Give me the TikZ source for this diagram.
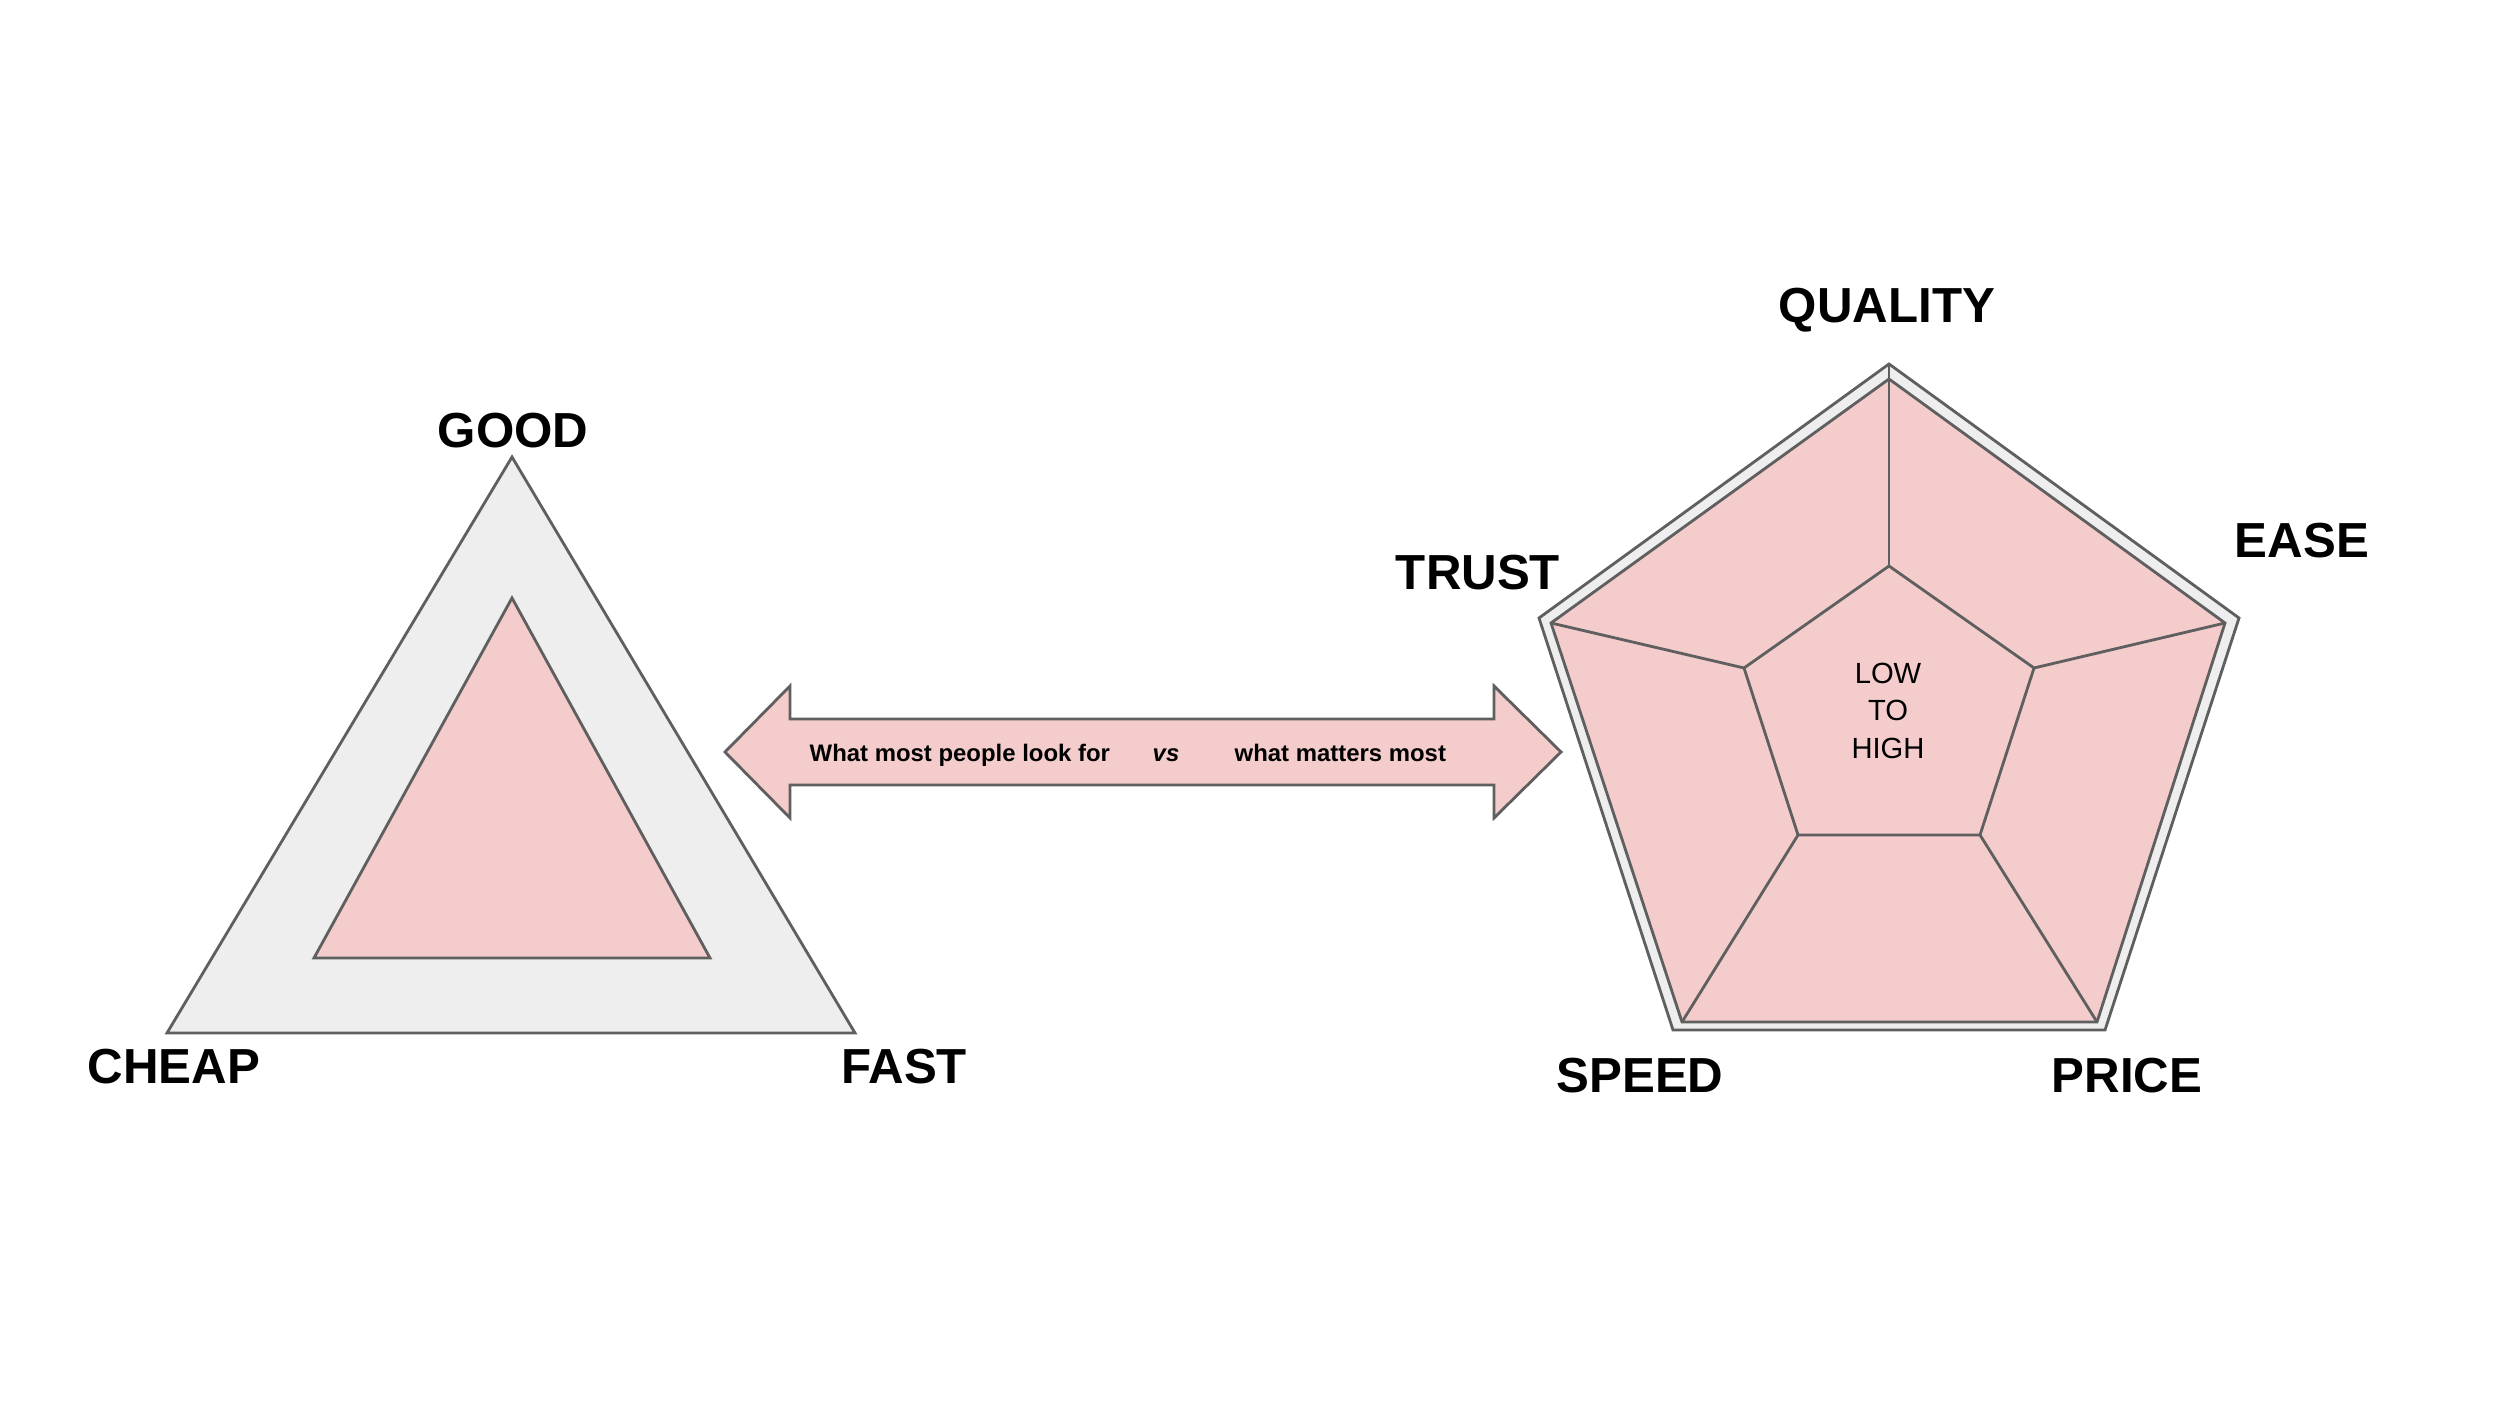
\documentclass[tikz,border=0pt]{standalone}
\usepackage{fontspec}
\setmainfont{Liberation Sans}
\definecolor{pinkfill}{HTML}{F4CCCC}
\definecolor{greyfill}{HTML}{EEEEEE}
\definecolor{linegrey}{HTML}{5F5F5F}
\begin{document}
\begin{tikzpicture}[x=0.01cm,y=-0.01cm,
  edge/.style={draw=linegrey,line width=0.8pt,line join=miter},
  biglabel/.style={font=\fontsize{14}{16}\selectfont\bfseries,inner sep=0pt,anchor=base},
  arrowtext/.style={font=\fontsize{6.8}{8}\selectfont\bfseries,inner sep=0pt},
  centertext/.style={font=\fontsize{8.3}{10.67}\selectfont,inner sep=0pt,align=center}]
\useasboundingbox[fill=white] (0,0) rectangle (2500,1407);

% ---------- triangle ----------
\coordinate (tA) at (512,457);
\coordinate (tB) at (167,1033);
\coordinate (tC) at (855,1033);
\coordinate (iA) at (512,598);
\coordinate (iB) at (314,958);
\coordinate (iC) at (710,958);
\draw[edge,fill=greyfill] (tA) -- (tB) -- (tC) -- cycle;
\draw[edge,fill=pinkfill] (iA) -- (iB) -- (iC) -- cycle;
\node[biglabel] (good) at (513,448) {GOOD};
\node[biglabel] (cheap) at (174,1083) {CHEAP};
\node[biglabel] (fast) at (904,1083) {FAST};

% ---------- double arrow ----------
\coordinate (aL) at (725,752);
\coordinate (aLt) at (790,686);
\coordinate (aLb) at (790,818);
\coordinate (aR) at (1561,752);
\coordinate (aRt) at (1494,686);
\coordinate (aRb) at (1494,818);
\draw[edge,fill=pinkfill] (aL) -- (aLt) -- (790,719) -- (1494,719) -- (aRt) -- (aR)
  -- (aRb) -- (1494,785) -- (790,785) -- (aLb) -- cycle;
\node[arrowtext,anchor=base west] (look) at (809,762) {What most people look for};
\node[arrowtext,anchor=base] (vs) at (1166,762) {\itshape vs};
\node[arrowtext,anchor=base west] (matters) at (1234,762) {what matters most};

% ---------- pentagon ----------
\coordinate (oT) at (1889,364);
\coordinate (oR) at (2239,618);
\coordinate (oBR) at (2105,1030);
\coordinate (oBL) at (1673,1030);
\coordinate (oL) at (1539,618);
\coordinate (pT) at (1889,379);
\coordinate (pR) at (2225,623);
\coordinate (pBR) at (2097,1022);
\coordinate (pBL) at (1682,1022);
\coordinate (pL) at (1551,623);
\coordinate (cT) at (1889,566);
\coordinate (cR) at (2034,668);
\coordinate (cBR) at (1980,835);
\coordinate (cBL) at (1798,835);
\coordinate (cL) at (1744,668);
\draw[edge,fill=greyfill] (oT) -- (oR) -- (oBR) -- (oBL) -- (oL) -- cycle;
\draw[edge,fill=pinkfill] (pT) -- (pR) -- (pBR) -- (pBL) -- (pL) -- cycle;
\draw[edge] (cT) -- (cR) -- (cBR) -- (cBL) -- (cL) -- cycle;
\draw[edge] (oT) -- (cT);
\draw[edge] (pR) -- (cR);
\draw[edge] (pBR) -- (cBR);
\draw[edge] (pBL) -- (cBL);
\draw[edge] (pL) -- (cL);
\node[centertext] (lowhigh) at (1888,710.5) {LOW\\TO\\HIGH};

\node[biglabel] (quality) at (1887,323) {QUALITY};
\node[biglabel] (ease) at (2302,558) {EASE};
\node[biglabel] (trust) at (1478,590) {TRUST};
\node[biglabel] (speed) at (1640,1092) {SPEED};
\node[biglabel] (price) at (2127,1092) {PRICE};
\end{tikzpicture}
\end{document}
